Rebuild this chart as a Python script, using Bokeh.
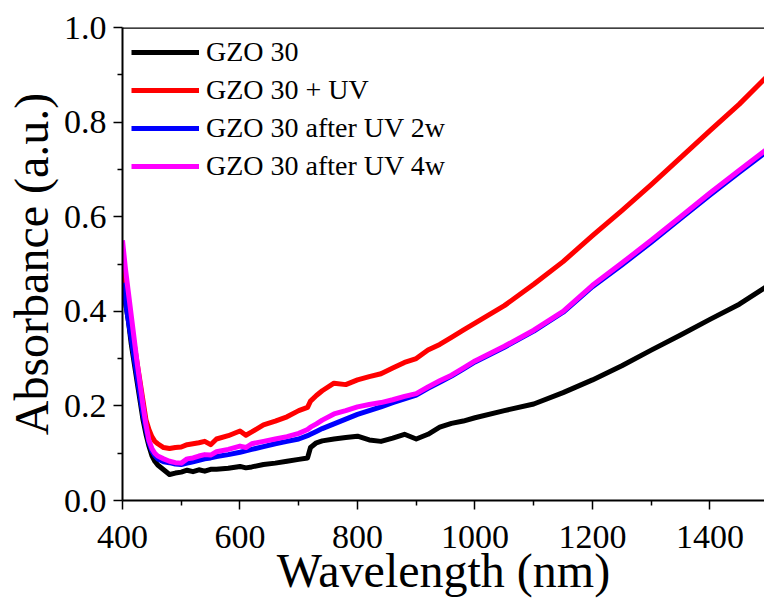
from bokeh.plotting import figure
from bokeh.models import LinearAxis, Range1d, FixedTicker, NumeralTickFormatter, Legend, LegendItem, Span
from bokeh.embed import file_html
from bokeh.resources import INLINE

wavelength = [400, 405, 410, 415, 420, 425, 430, 435, 440, 445, 450, 455, 460, 470, 480, 490,
              500, 510, 520, 530, 540, 550, 560, 580, 600, 610, 620, 640, 660, 680, 700, 715, 720, 730, 740, 760,
              780, 800, 820, 840, 860, 880, 900, 920, 940, 960, 980, 1000, 1050, 1100, 1150,
              1200, 1250, 1300, 1350, 1400, 1450, 1500]

gzo30 = [0.47, 0.42, 0.38, 0.33, 0.29, 0.25, 0.21, 0.17, 0.14, 0.115, 0.095, 0.083, 0.075, 0.065, 0.055, 0.058,
         0.060, 0.064, 0.061, 0.065, 0.062, 0.066, 0.066, 0.068, 0.072, 0.069, 0.071, 0.076, 0.079, 0.083, 0.087, 0.090, 0.112, 0.122, 0.126, 0.130,
         0.133, 0.136, 0.128, 0.125, 0.132, 0.140, 0.130, 0.140, 0.155, 0.163, 0.168, 0.175, 0.190, 0.204, 0.228,
         0.255, 0.285, 0.318, 0.350, 0.383, 0.415, 0.455]

gzo30_uv = [0.50, 0.46, 0.42, 0.37, 0.33, 0.29, 0.25, 0.21, 0.17, 0.150, 0.135, 0.125, 0.120, 0.112, 0.110, 0.112,
            0.113, 0.118, 0.120, 0.122, 0.125, 0.118, 0.130, 0.137, 0.147, 0.138, 0.145, 0.160, 0.168, 0.177, 0.190, 0.197, 0.210, 0.222, 0.232, 0.248,
            0.245, 0.255, 0.262, 0.268, 0.280, 0.292, 0.300, 0.318, 0.330, 0.345, 0.360, 0.375, 0.412, 0.457, 0.505,
            0.560, 0.613, 0.668, 0.725, 0.782, 0.838, 0.900]

gzo30_2w = [0.46, 0.42, 0.38, 0.34, 0.30, 0.26, 0.22, 0.18, 0.15, 0.122, 0.105, 0.095, 0.088, 0.082, 0.080, 0.077,
            0.076, 0.079, 0.082, 0.085, 0.088, 0.090, 0.093, 0.097, 0.102, 0.105, 0.108, 0.114, 0.120, 0.125, 0.130, 0.137, 0.140, 0.146, 0.152, 0.162,
            0.172, 0.182, 0.190, 0.198, 0.207, 0.215, 0.223, 0.237, 0.250, 0.263, 0.278, 0.293, 0.324, 0.358, 0.398,
            0.452, 0.498, 0.546, 0.596, 0.646, 0.694, 0.741]

gzo30_4w = [0.55, 0.49, 0.44, 0.39, 0.34, 0.29, 0.245, 0.20, 0.16, 0.127, 0.110, 0.100, 0.094, 0.088, 0.083, 0.080,
            0.079, 0.088, 0.090, 0.094, 0.097, 0.096, 0.103, 0.108, 0.115, 0.112, 0.120, 0.125, 0.130, 0.135, 0.142, 0.150, 0.155, 0.162, 0.170, 0.183,
            0.190, 0.198, 0.203, 0.207, 0.213, 0.220, 0.226, 0.240, 0.253, 0.265, 0.280, 0.295, 0.326, 0.360, 0.400,
            0.455, 0.502, 0.550, 0.600, 0.650, 0.698, 0.746]

series_names = ["GZO 30", "GZO 30 + UV", "GZO 30 after UV 2w", "GZO 30 after UV 4w"]
series_values = [gzo30, gzo30_uv, gzo30_2w, gzo30_4w]
series_colors = ["#000000", "#FF0000", "#0000FF", "#FF00FF"]

x_ticks = [400, 600, 800, 1000, 1200, 1400]
x_minor = [500, 700, 900, 1100, 1300, 1500]
y_ticks = [0.0, 0.2, 0.4, 0.6, 0.8, 1.0]
y_minor = [0.1, 0.3, 0.5, 0.7, 0.9]

FONT = "Liberation Serif"

p = figure(width=764, height=599, output_backend="svg", toolbar_location=None,
           x_range=Range1d(400, 1492.8), y_range=Range1d(0, 1.0),
           x_axis_location=None, y_axis_location=None,
           min_border_left=122, min_border_right=0, min_border_top=27, min_border_bottom=94)
p.outline_line_color = None
p.xgrid.visible = False
p.ygrid.visible = False
p.background_fill_color = "white"
p.border_fill_color = "white"

renderers = []
for name, vals, col in zip(series_names, series_values, series_colors):
    r = p.line(wavelength, vals, line_color=col, line_width=5, line_join="round")
    renderers.append(r)

def style_axis(ax):
    ax.axis_line_color = "black"
    ax.axis_line_width = 2
    ax.major_tick_line_color = "black"
    ax.minor_tick_line_color = "black"
    ax.major_tick_line_width = 1.5
    ax.minor_tick_line_width = 1.5
    ax.major_tick_in = 0
    ax.major_tick_out = 9
    ax.minor_tick_in = 0
    ax.minor_tick_out = 5
    ax.major_label_text_font = FONT
    ax.major_label_text_font_size = "34px"
    ax.major_label_text_color = "black"
    ax.axis_label_text_font = FONT
    ax.axis_label_text_font_size = "48px"
    ax.axis_label_text_font_style = "normal"
    ax.axis_label_text_color = "black"

xa = LinearAxis(axis_label="Wavelength (nm)")
xa.ticker = FixedTicker(ticks=x_ticks, minor_ticks=x_minor)
style_axis(xa)
xa.major_label_standoff = 16
xa.axis_label_standoff = -7
p.add_layout(xa, "below")

ya = LinearAxis(axis_label="Absorbance (a.u.)")
ya.ticker = FixedTicker(ticks=y_ticks, minor_ticks=y_minor)
ya.formatter = NumeralTickFormatter(format="0.0")
style_axis(ya)
ya.major_label_standoff = 7
ya.axis_label_standoff = 3
p.add_layout(ya, "left")

p.add_layout(Span(location=1.0, dimension="width", line_color="black", line_width=2.5))

legend = Legend(items=[LegendItem(label=n, renderers=[r]) for n, r in zip(series_names, renderers)],
                location="top_left")
legend.label_text_font = FONT
legend.label_text_font_size = "28px"
legend.label_text_color = "black"
legend.glyph_width = 68
legend.glyph_height = 30
legend.label_height = 30
legend.spacing = 6
legend.label_standoff = 7
legend.padding = 8
legend.margin = 9
legend.border_line_color = None
legend.background_fill_alpha = 0
p.add_layout(legend)

open("out.html", "w").write(file_html(p, INLINE))
